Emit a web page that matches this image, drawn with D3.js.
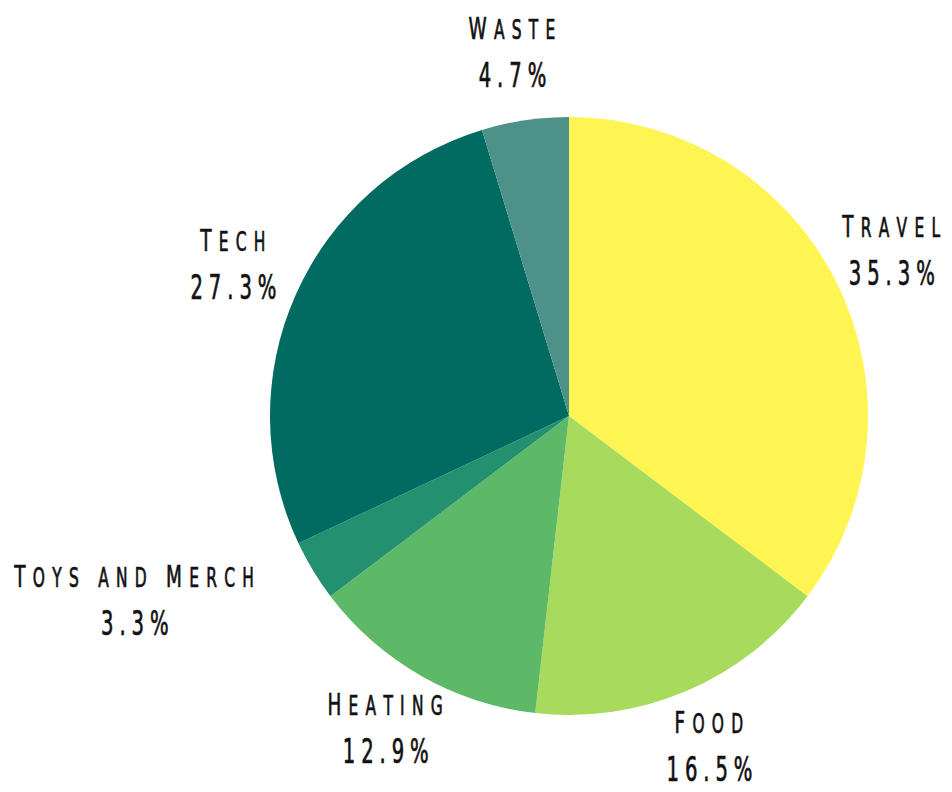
<!DOCTYPE html>
<html>
<head>
<meta charset="utf-8">
<script src="https://cdn.jsdelivr.net/npm/d3@7"></script>
<style>
  body { margin: 0; background: #fff; }
  .lbl { font-family: "DejaVu Sans Condensed", "DejaVu Sans", sans-serif; fill: #111; stroke: #111; stroke-width: 0.7px; }
</style>
</head>
<body>
<div id="chart"></div>
<script>
// Emissions share by category, clockwise from 12 o'clock
const categories = ["Travel", "Food", "Heating", "Toys and Merch", "Tech", "Waste"];
const shares = [35.3, 16.5, 12.9, 3.3, 27.3, 4.7];
const colors = ["#fff552", "#a8db5d", "#5db967", "#23916f", "#026b61", "#4d9189"];

const width = 952;
const height = 792;
const cx = 569, cy = 416, radius = 299;
const labelRadius = radius * 1.217;

const data = categories.map((c, i) => ({ name: c, value: shares[i], color: colors[i] }));

const svg = d3.select("#chart")
  .append("svg")
  .attr("width", width)
  .attr("height", height);

const pie = d3.pie().sort(null).value(d => d.value);
const arc = d3.arc().innerRadius(0).outerRadius(radius);
const arcs = pie(data);

const g = svg.append("g").attr("transform", `translate(${cx},${cy})`);

g.selectAll("path")
  .data(arcs)
  .join("path")
  .attr("d", arc)
  .attr("fill", d => d.data.color);

// labels: two lines (name, percent), squeezed sideways to look like a narrow hand font
const sx = 0.66;
const labels = g.selectAll("g.label")
  .data(arcs)
  .join("g")
  .attr("class", "label");

labels.each(function(d) {
  const a = (d.startAngle + d.endAngle) / 2;
  let x = Math.sin(a) * labelRadius;
  const y = -Math.cos(a) * labelRadius;
  const lab = d3.select(this);
  const inner = lab.append("g").attr("transform", `scale(${sx},1)`);

  const name = inner.append("text")
    .attr("class", "lbl")
    .attr("text-anchor", "middle")
    .attr("y", -17)
    .style("letter-spacing", "11px");
  // small caps: capitals stay big, the rest smaller
  name.selectAll("tspan")
    .data(d.data.name.split(""))
    .join("tspan")
    .attr("font-size", c => (c !== c.toLowerCase() ? 31 : 26))
    .text(c => c.toUpperCase());

  inner.append("text")
    .attr("class", "lbl")
    .attr("text-anchor", "middle")
    .attr("y", 31)
    .attr("font-size", 33)
    .style("letter-spacing", "9px")
    .text(d.data.value.toFixed(1) + "%");

  // if the centred block would clearly cover the pie, hang it off the label point instead
  const bb = this.getBBox(); // already includes the inner scale
  const clamp = (v, lo, hi) => Math.max(lo, Math.min(hi, v));
  const nx = clamp(0, x + bb.x, x + bb.x + bb.width);
  const ny = clamp(0, y + bb.y, y + bb.y + bb.height);
  if (Math.hypot(nx, ny) < radius - 20) {
    const dir = Math.sign(x) || 1;
    x = x + dir * (bb.width / 2 - 4);
  }
  lab.attr("transform", `translate(${x},${y})`);
});
</script>
</body>
</html>
